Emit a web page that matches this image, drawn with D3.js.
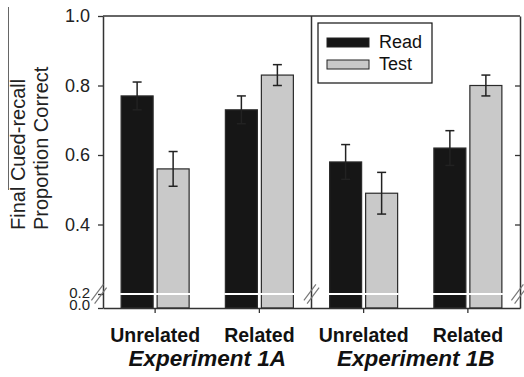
<!DOCTYPE html>
<html>
<head>
<meta charset="utf-8">
<script src="https://cdn.jsdelivr.net/npm/d3@7"></script>
<style>
  body { margin: 0; background: #fff; }
  svg { display: block; font-family: "Liberation Sans", Arial, sans-serif; }
</style>
</head>
<body>
<div id="chart"></div>
<script>
// Data
const groups = ["1A-U", "1A-R", "1B-U", "1B-R"];
const conditions = ["Unrelated", "Related", "Unrelated", "Related"];
const experiments = ["Experiment 1A", "Experiment 1B"];
const series = ["Read", "Test"];
const readMeans = [0.77, 0.73, 0.58, 0.62];
const readErr = [0.04, 0.04, 0.05, 0.05];
const testMeans = [0.56, 0.83, 0.49, 0.80];
const testErr = [0.05, 0.03, 0.06, 0.03];
const yTicks = [0, 0.2, 0.4, 0.6, 0.8, 1.0];
const innerTicks = [0.4, 0.6, 0.8];

const W = 524, H = 377;
const plot = { left: 103, right: 520, top: 16, bottom: 308 };

const svg = d3.select("#chart").append("svg")
  .attr("width", W)
  .attr("height", H);

// broken y axis: 0-0.2 squeezed into the bottom strip
const y = d3.scaleLinear()
  .domain([0, 0.2, 1])
  .range([plot.bottom, 294, plot.top]);

const x = d3.scaleBand()
  .domain(groups)
  .range([plot.left, plot.right])
  .paddingInner(0);

const xSub = d3.scaleBand()
  .domain(series)
  .range([-34, 34])
  .paddingInner(4 / 36);

const color = d3.scaleOrdinal().domain(series).range(["#161616", "#c9c9c9"]);

const rows = groups.map((g, i) => ({
  group: g,
  bars: [
    { key: "Read", mean: readMeans[i], err: readErr[i] },
    { key: "Test", mean: testMeans[i], err: testErr[i] }
  ]
}));

// bars
const grp = svg.selectAll(".bar-group")
  .data(rows)
  .enter().append("g")
  .attr("class", "bar-group")
  .attr("transform", d => `translate(${x(d.group) + x.bandwidth() / 2},0)`);

grp.selectAll("rect")
  .data(d => d.bars)
  .enter().append("rect")
  .attr("x", d => xSub(d.key))
  .attr("y", d => y(d.mean))
  .attr("width", xSub.bandwidth())
  .attr("height", d => plot.bottom - y(d.mean))
  .attr("fill", d => color(d.key))
  .attr("stroke", "#2a2a2a")
  .attr("stroke-width", 1.2);

// white break line across the bars
grp.append("line")
  .attr("x1", xSub("Read") - 1)
  .attr("x2", xSub("Test") + xSub.bandwidth() + 1)
  .attr("y1", y(0.2))
  .attr("y2", y(0.2))
  .attr("stroke", "#fff")
  .attr("stroke-width", 2.2);

// error bars
const eb = grp.selectAll(".err")
  .data(d => d.bars)
  .enter().append("g")
  .attr("class", "err")
  .attr("stroke", "#222")
  .attr("stroke-width", 1.5);

eb.append("line")
  .attr("x1", d => xSub(d.key) + xSub.bandwidth() / 2)
  .attr("x2", d => xSub(d.key) + xSub.bandwidth() / 2)
  .attr("y1", d => y(d.mean + d.err))
  .attr("y2", d => y(d.mean - d.err));

[1, -1].forEach(s => {
  eb.append("line")
    .attr("x1", d => xSub(d.key) + xSub.bandwidth() / 2 - 4.5)
    .attr("x2", d => xSub(d.key) + xSub.bandwidth() / 2 + 4.5)
    .attr("y1", d => y(d.mean + s * d.err))
    .attr("y2", d => y(d.mean + s * d.err));
});

// left axis
const yAxis = svg.append("g")
  .attr("transform", `translate(${plot.left},0)`)
  .call(d3.axisLeft(y).tickValues(yTicks).tickSize(5).tickSizeOuter(0).tickFormat(d3.format(".1f")));

// the 0.0 and 0.2 labels sit squeezed together at the break
yAxis.selectAll("text")
  .attr("x", -13)
  .attr("font-size", d => d < 0.3 ? 15 : 18)
  .attr("fill", "#222")
  .attr("dy", d => d === 0 ? "0.07em" : (d === 0.2 ? "0.2em" : "0.32em"));

// right axis with inward ticks, no labels
const rAxis = svg.append("g")
  .attr("transform", `translate(${plot.right},0)`)
  .call(d3.axisLeft(y).tickValues(innerTicks).tickSize(5).tickSizeOuter(0).tickFormat(""));

// middle divider between the two experiments
const mid = x(groups[2]);
svg.append("line")
  .attr("x1", mid).attr("x2", mid)
  .attr("y1", plot.top).attr("y2", plot.bottom)
  .attr("stroke", "#333").attr("stroke-width", 1.5);

// top frame
svg.append("line")
  .attr("x1", plot.left).attr("x2", plot.right)
  .attr("y1", plot.top).attr("y2", plot.top)
  .attr("stroke", "#333").attr("stroke-width", 1.5);

// bottom axis
const xAxis = svg.append("g")
  .attr("transform", `translate(0,${plot.bottom})`)
  .call(d3.axisBottom(x).tickSize(5).tickSizeOuter(0).tickFormat((d, i) => conditions[i]));

xAxis.selectAll("text")
  .attr("y", 34)
  .attr("dy", 0)
  .attr("font-size", 19.5)
  .attr("font-weight", "bold")
  .attr("fill", "#111");

[yAxis, rAxis, xAxis].forEach(a => {
  a.select(".domain").attr("stroke", "#333").attr("stroke-width", 1.5);
  a.selectAll(".tick line").attr("stroke", "#333").attr("stroke-width", 1.3);
});

// axis break marks
[plot.left - 4, mid, plot.right - 1].forEach(cx => {
  [-1.6, 1.6].forEach(o => {
    svg.append("line")
      .attr("x1", cx - 6 + o).attr("y1", y(0.2) + 8 + o)
      .attr("x2", cx + 6 + o).attr("y2", y(0.2) - 8 + o)
      .attr("stroke", "#777").attr("stroke-width", 1.2);
  });
});

// experiment labels
svg.selectAll(".exp")
  .data(experiments)
  .enter().append("text")
  .attr("class", "exp")
  .attr("x", (d, i) => (x(groups[i * 2]) + x(groups[i * 2 + 1]) + x.bandwidth()) / 2)
  .attr("y", 366)
  .attr("text-anchor", "middle")
  .attr("font-size", 22.5)
  .attr("font-weight", "bold")
  .attr("font-style", "italic")
  .attr("fill", "#111")
  .text(d => d);

// y axis title
const yTitle = svg.append("text")
  .attr("transform", "translate(25,230) rotate(-90)")
  .attr("font-size", 20)
  .attr("fill", "#222");
yTitle.append("tspan").attr("x", 0).attr("y", 0).text("Final Cued-recall");
yTitle.append("tspan").attr("x", 0).attr("y", 23).text("Proportion Correct");

// stray scan line near the title
svg.append("line")
  .attr("x1", 8.5).attr("x2", 8.5)
  .attr("y1", 7).attr("y2", 190)
  .attr("stroke", "#666").attr("stroke-width", 1);

// legend
const legend = svg.append("g").attr("transform", "translate(318,23)");
legend.append("rect")
  .attr("width", 114).attr("height", 60)
  .attr("fill", "#fff").attr("stroke", "#111").attr("stroke-width", 1.2);
const item = legend.selectAll(".item")
  .data(series)
  .enter().append("g")
  .attr("class", "item")
  .attr("transform", (d, i) => `translate(9,${15 + i * 22})`);
item.append("rect")
  .attr("width", 42).attr("height", 9)
  .attr("fill", d => color(d))
  .attr("stroke", "#222").attr("stroke-width", 1);
item.append("text")
  .attr("x", 52).attr("y", 10)
  .attr("font-size", 18)
  .attr("fill", "#111")
  .text(d => d);
</script>
</body>
</html>
